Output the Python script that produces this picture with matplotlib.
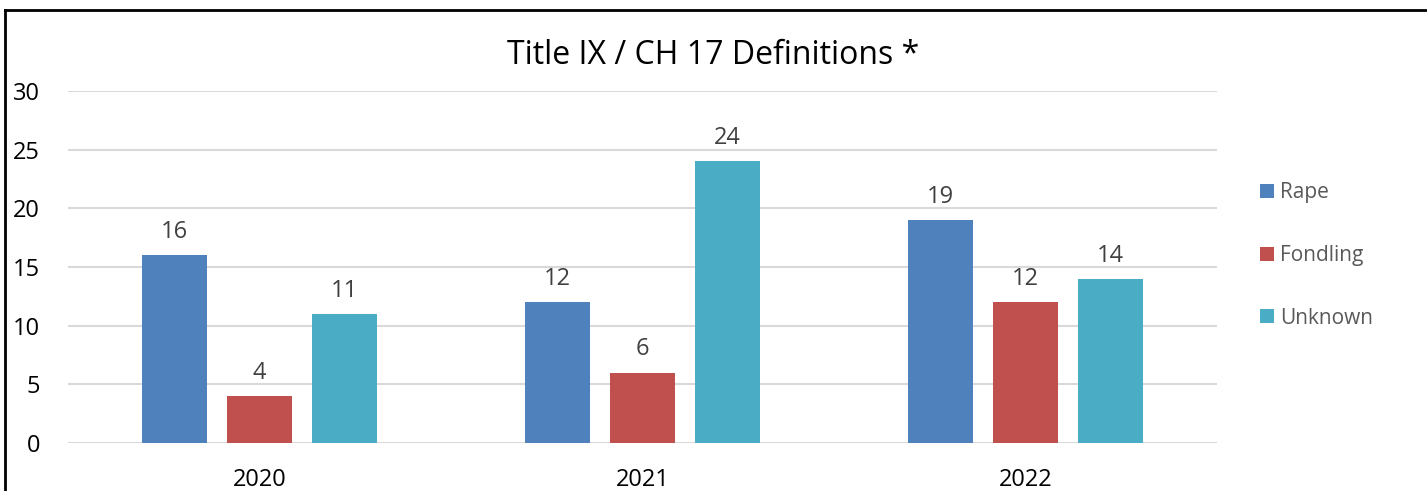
import numpy as np
import matplotlib.pyplot as plt
from matplotlib.lines import Line2D

# data
years = ["2020", "2021", "2022"]
series = ["Rape", "Fondling", "Unknown"]
rape = [16, 12, 19]
fondling = [4, 6, 12]
unknown = [11, 24, 14]
colors = ["#4F81BD", "#C0504D", "#4BACC6"]

plt.rcParams['font.family'] = ['Open Sans', 'DejaVu Sans']

fig = plt.figure(figsize=(14.27, 4.91), dpi=100)
ax = fig.add_axes([68/1427, 1 - 443/491, (1217 - 68)/1427, (443 - 91)/491])

x = np.arange(len(years))
width = 0.172
step = 0.222
for k, (name, vals) in enumerate(zip(series, [rape, fondling, unknown])):
    bars = ax.bar(x + (k - 1) * step, vals, width, color=colors[k], label=name, zorder=3)
    ax.bar_label(bars, padding=8, fontsize=17, color="#404040")

ax.set_xlim(-0.5, 2.5)
ax.set_ylim(0, 30)
ax.set_yticks(range(0, 31, 5))
ax.set_xticks(x)
ax.set_xticklabels(years)
ax.tick_params(axis='both', length=0, labelsize=17, colors="black")
ax.tick_params(axis='y', pad=20)
ax.tick_params(axis='x', pad=18)
ax.grid(axis='y', color="#D9D9D9", linewidth=1.5, zorder=0)
for s in ax.spines.values():
    s.set_visible(False)

fig.text(0.5, 1 - 55/491, "Title IX / CH 17 Definitions *", ha='center', va='center', fontsize=23)

ax.legend(loc='upper left', bbox_to_anchor=(1252/1427, 1 - 174/491), bbox_transform=fig.transFigure,
          frameon=False, fontsize=15, labelcolor="#595959", handlelength=0.65, handleheight=0.65,
          handletextpad=0.3, labelspacing=2.0, borderaxespad=0)

# the black frame on left and top
fig.add_artist(Line2D([5/1427, 5/1427], [0, 1 - 10/491], color="black", linewidth=2, transform=fig.transFigure))
fig.add_artist(Line2D([5/1427, 1], [1 - 10/491, 1 - 10/491], color="black", linewidth=2, transform=fig.transFigure))

fig.savefig("out.png", dpi=100)
